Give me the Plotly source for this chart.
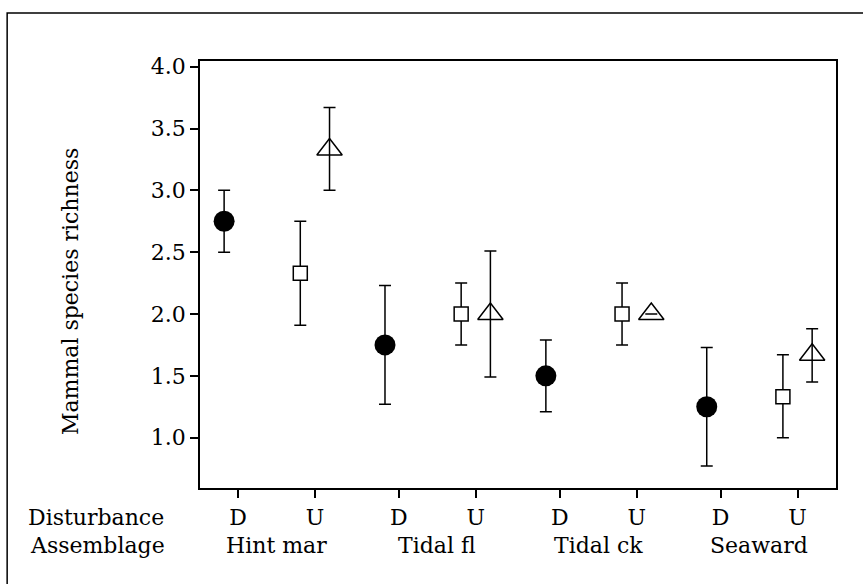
import plotly.graph_objects as go

# ---- data ----
assemblages = ["Hint mar", "Tidal fl", "Tidal ck", "Seaward"]
disturbance_labels = ["D", "U"]

disturbed_mean = [2.75, 1.75, 1.50, 1.25]
disturbed_err = [0.25, 0.48, 0.29, 0.48]

undist_sq_mean = [2.33, 2.00, 2.00, 1.33]
undist_sq_err_plus = [0.42, 0.25, 0.25, 0.34]
undist_sq_err_minus = [0.42, 0.25, 0.25, 0.33]

undist_tri_mean = [3.33, 2.00, 2.00, 1.67]
undist_tri_err_plus = [0.34, 0.51, 0.0, 0.21]
undist_tri_err_minus = [0.33, 0.51, 0.0, 0.22]

y_ticks = [1.0, 1.5, 2.0, 2.5, 3.0, 3.5, 4.0]

# ---- layout constants ----
GROUP_GAP = 161 / 77
OFF_CIRCLE = -0.18
OFF_SQ = -0.19
OFF_TRI = 0.19
FONT = "DejaVu Serif"
FS = 22

x_D = [g * GROUP_GAP for g in range(len(assemblages))]
x_U = [g * GROUP_GAP + 1 for g in range(len(assemblages))]

tickvals = []
ticktext = []
for d, u in zip(x_D, x_U):
    tickvals += [d, u]
    ticktext += disturbance_labels

err_style = dict(type="data", color="black", thickness=1.5, width=6)

fig = go.Figure()
fig.add_trace(go.Scatter(
    x=[x + OFF_CIRCLE for x in x_D], y=disturbed_mean, mode="markers",
    marker=dict(symbol="circle", size=21, color="black"),
    error_y=dict(array=disturbed_err, **err_style), showlegend=False))
fig.add_trace(go.Scatter(
    x=[x + OFF_SQ for x in x_U], y=undist_sq_mean, mode="markers",
    marker=dict(symbol="square", size=14, color="white", line=dict(color="black", width=1.5)),
    error_y=dict(array=undist_sq_err_plus, arrayminus=undist_sq_err_minus, symmetric=False, **err_style),
    showlegend=False))
fig.add_trace(go.Scatter(
    x=[x + OFF_TRI for x in x_U], y=undist_tri_mean, mode="markers",
    marker=dict(symbol="triangle-up-open", size=22, color="black", line=dict(color="black", width=1.5)),
    error_y=dict(array=undist_tri_err_plus, arrayminus=undist_tri_err_minus, symmetric=False, **err_style),
    showlegend=False))

W, H = 863, 584
ML, MR, MT, MB = 200, 26.5, 61, 96
PW = W - ML - MR
PH = H - MT - MB


def px_to_paper_x(px):
    return (px - ML) / PW


def px_to_paper_y(py):
    return (H - MB - py) / PH


annotations = [
    dict(text="Mammal species richness", textangle=-90, x=px_to_paper_x(70), y=px_to_paper_y(292),
         xref="paper", yref="paper", xanchor="center", yanchor="middle", showarrow=False,
         font=dict(family=FONT, size=FS, color="black")),
    dict(text="Disturbance", x=px_to_paper_x(96), y=px_to_paper_y(517),
         xref="paper", yref="paper", xanchor="center", yanchor="middle", showarrow=False,
         font=dict(family=FONT, size=FS, color="black")),
    dict(text="Assemblage", x=px_to_paper_x(97), y=px_to_paper_y(545),
         xref="paper", yref="paper", xanchor="center", yanchor="middle", showarrow=False,
         font=dict(family=FONT, size=FS, color="black")),
]
for name, d, u in zip(assemblages, x_D, x_U):
    annotations.append(dict(text=name, x=(d + u) / 2, y=px_to_paper_y(545), xref="x", yref="paper",
                            xanchor="center", yanchor="middle", showarrow=False,
                            font=dict(family=FONT, size=FS, color="black")))

fig.update_layout(
    width=W, height=H,
    margin=dict(l=ML, r=MR, t=MT, b=MB, pad=0),
    paper_bgcolor="white", plot_bgcolor="white",
    font=dict(family=FONT, size=FS, color="black"),
    xaxis=dict(range=[(200 - 238) / 77, (836.5 - 238) / 77], tickvals=tickvals, ticktext=ticktext,
               showgrid=False, zeroline=False, showline=True, linecolor="black", linewidth=1.5,
               mirror=True, ticks="outside", ticklen=8, tickwidth=1.5, tickcolor="black",
               ticklabelstandoff=1),
    yaxis=dict(range=[0.593, 4.046], tickvals=y_ticks, tickformat=".1f",
               showgrid=False, zeroline=False, showline=True, linecolor="black", linewidth=1.5,
               mirror=True, ticks="outside", ticklen=8, tickwidth=1.5, tickcolor="black"),
    annotations=annotations,
    shapes=[dict(type="rect", xref="paper", yref="paper",
                 x0=px_to_paper_x(7), x1=px_to_paper_x(880), y0=px_to_paper_y(600), y1=px_to_paper_y(13),
                 line=dict(color="black", width=1.5), fillcolor="rgba(0,0,0,0)", layer="below")],
)

fig.write_html("out.html")
